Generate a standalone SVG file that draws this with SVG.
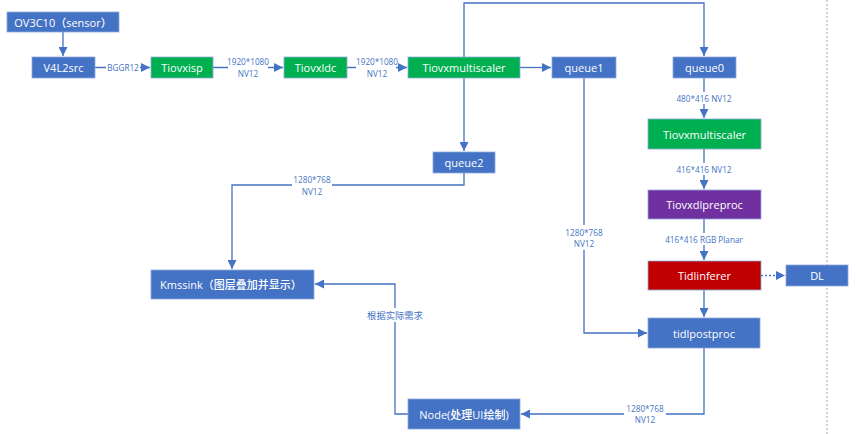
<svg xmlns="http://www.w3.org/2000/svg" width="856" height="434" viewBox="0 0 856 434">
<defs>
<marker id="ah" viewBox="0 0 10 10" refX="10" refY="5" markerWidth="9" markerHeight="9" markerUnits="userSpaceOnUse" orient="auto">
<path d="M0,0 L10,5 L0,10 z" fill="#4472C4"/>
</marker>
<style>
.n{stroke:#8FAADC;stroke-width:0.8}
.b{fill:#4472C4}.g{fill:#00B050}.p{fill:#7030A0}.r{fill:#C00000}
.t{font-family:"Open Sans","Noto Sans CJK SC",sans-serif;font-size:11px;font-weight:500;fill:#FFFFFF;text-anchor:middle;dominant-baseline:central}
.c{fill:none;stroke:#4472C4;stroke-width:1.3}
.l{font-family:"Open Sans","Noto Sans CJK SC",sans-serif;font-size:8.2px;fill:#4472C4;text-anchor:middle;dominant-baseline:central}
</style>
</defs>
<rect width="856" height="434" fill="#FFFFFF"/>
<line x1="827" y1="0" x2="827" y2="434" stroke="#A6A6A6" stroke-width="1" stroke-dasharray="2,2"/>
<g id="connectors">
<path class="c" d="M63,32 V56" marker-end="url(#ah)"/>
<path class="c" d="M95,67.5 H150" marker-end="url(#ah)"/>
<path class="c" d="M213,67.5 H283" marker-end="url(#ah)"/>
<path class="c" d="M347,67.5 H407" marker-end="url(#ah)"/>
<path class="c" d="M520,67.5 H551" marker-end="url(#ah)"/>
<path class="c" d="M464,57 V3 H704 V56" marker-end="url(#ah)"/>
<path class="c" d="M464,78 V151" marker-end="url(#ah)"/>
<path class="c" d="M464,173 V185 H232 V269" marker-end="url(#ah)"/>
<path class="c" d="M704,78 V118" marker-end="url(#ah)"/>
<path class="c" d="M704,149 V189" marker-end="url(#ah)"/>
<path class="c" d="M704,219 V260" marker-end="url(#ah)"/>
<path class="c" d="M761,275.5 H785" stroke-dasharray="2,2" marker-end="url(#ah)"/>
<path class="c" d="M704,290 V317" marker-end="url(#ah)"/>
<path class="c" d="M584,78 V333 H647" marker-end="url(#ah)"/>
<path class="c" d="M704,348 V414 H521" marker-end="url(#ah)"/>
<path class="c" d="M408,414 H395 V284 H315" marker-end="url(#ah)"/>
</g>
<g id="labels">
<rect x="106" y="62" width="34" height="11" fill="#FFFFFF"/>
<text class="l" x="123" y="67.5">BGGR12</text>
<rect x="228" y="55" width="40" height="24" fill="#FFFFFF"/>
<text class="l" x="248" y="61">1920*1080</text>
<text class="l" x="248" y="73">NV12</text>
<rect x="356" y="55" width="40" height="24" fill="#FFFFFF"/>
<text class="l" x="377" y="61">1920*1080</text>
<text class="l" x="377" y="73">NV12</text>
<rect x="292" y="174" width="40" height="24" fill="#FFFFFF"/>
<text class="l" x="312" y="179">1280*768</text>
<text class="l" x="312" y="191">NV12</text>
<rect x="670" y="92" width="68" height="12" fill="#FFFFFF"/>
<text class="l" x="704" y="98">480*416 NV12</text>
<rect x="670" y="163" width="68" height="12" fill="#FFFFFF"/>
<text class="l" x="704" y="169">416*416 NV12</text>
<rect x="661" y="233" width="86" height="12" fill="#FFFFFF"/>
<text class="l" x="704" y="239">416*416 RGB Planar</text>
<rect x="563" y="225" width="42" height="25" fill="#FFFFFF"/>
<text class="l" x="584" y="232">1280*768</text>
<text class="l" x="584" y="243">NV12</text>
<rect x="364" y="308" width="62" height="14" fill="#FFFFFF"/>
<text class="l" x="395" y="315" style="font-size:9.3px">根据实际需求</text>
<rect x="624" y="402" width="42" height="24" fill="#FFFFFF"/>
<text class="l" x="645" y="408">1280*768</text>
<text class="l" x="645" y="419">NV12</text>
</g>
<g id="ov3c10"><rect class="n b" x="7" y="12" width="112" height="20"/><text class="t" x="63" y="22">OV3C10（sensor）</text></g>
<g id="v4l2src"><rect class="n b" x="32" y="57" width="63" height="21"/><text class="t" x="63.5" y="67.5">V4L2src</text></g>
<g id="tiovxisp"><rect class="n g" x="151" y="57" width="62" height="21"/><text class="t" x="182" y="67.5">Tiovxisp</text></g>
<g id="tiovxldc"><rect class="n g" x="284" y="57" width="63" height="21"/><text class="t" x="315.5" y="67.5">Tiovxldc</text></g>
<g id="tiovxmultiscaler1"><rect class="n g" x="408" y="57" width="112" height="21"/><text class="t" x="464" y="67.5">Tiovxmultiscaler</text></g>
<g id="queue1"><rect class="n b" x="552" y="57" width="64" height="21"/><text class="t" x="584" y="67.5">queue1</text></g>
<g id="queue0"><rect class="n b" x="673" y="57" width="63" height="21"/><text class="t" x="704.5" y="67.5">queue0</text></g>
<g id="queue2"><rect class="n b" x="433" y="152" width="62" height="21"/><text class="t" x="464" y="162.5">queue2</text></g>
<g id="kmssink"><rect class="n b" x="151" y="270" width="163" height="29"/><text class="t" x="160" y="284.5" style="text-anchor:start">Kmssink（图层叠加并显示）</text></g>
<g id="tiovxmultiscaler2"><rect class="n g" x="648" y="119" width="113" height="30"/><text class="t" x="704.5" y="134">Tiovxmultiscaler</text></g>
<g id="tiovxdlpreproc"><rect class="n p" x="648" y="190" width="113" height="29"/><text class="t" x="704.5" y="204.5">Tiovxdlpreproc</text></g>
<g id="tidlinferer"><rect class="n r" x="648" y="261" width="113" height="29"/><text class="t" x="704.5" y="275.5">Tidlinferer</text></g>
<g id="dl"><rect class="n b" x="786" y="265" width="62" height="21"/><text class="t" x="817" y="275.5">DL</text></g>
<g id="tidlpostproc"><rect class="n b" x="648" y="318" width="112" height="30"/><text class="t" x="704" y="333">tidlpostproc</text></g>
<g id="node"><rect class="n b" x="408" y="399" width="112" height="30"/><text class="t" x="464" y="414">Node(处理UI绘制)</text></g>
</svg>
